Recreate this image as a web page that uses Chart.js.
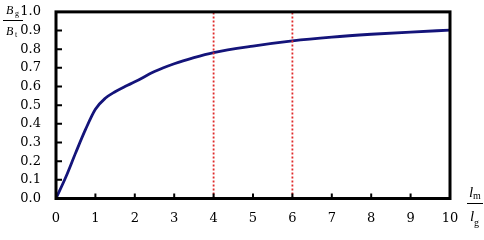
<!DOCTYPE html>
<html>
<head>
<meta charset="utf-8">
<script src="https://cdn.jsdelivr.net/npm/chart.js@4"></script>
<style>
  html, body { margin: 0; padding: 0; background: #fff; }
  #wrap { width: 484px; height: 240px; }
</style>
</head>
<body>
<div id="wrap"><canvas id="myChart" width="484" height="240"></canvas></div>
<script>
// ratio lm/lg and Bg/Bt
const ratioX = [0, 0.25, 0.5, 0.75, 1.0, 1.25, 1.5, 1.75, 2, 2.5, 3, 3.5, 4, 5, 6, 7, 8, 9, 10];
const ratioB = [0, 0.115, 0.245, 0.37, 0.478, 0.537, 0.572, 0.6, 0.625, 0.68, 0.722, 0.755, 0.782, 0.817, 0.845, 0.865, 0.88, 0.892, 0.902];
const markX = [4, 6];
const xTicks = [0, 1, 2, 3, 4, 5, 6, 7, 8, 9, 10];
const yTicks = [0, 0.1, 0.2, 0.3, 0.4, 0.5, 0.6, 0.7, 0.8, 0.9, 1.0];

const serif = "'DejaVu Serif', 'Liberation Serif', serif";
const tserif = "'Liberation Serif', serif";

const frame = {
  id: "frame",
  afterDraw(chart) {
    const ctx = chart.ctx;
    const a = chart.chartArea;
    const xs = chart.scales.x, ys = chart.scales.y;
    ctx.save();
    ctx.setLineDash([]);
    ctx.strokeStyle = "#000";
    ctx.lineWidth = 3;
    ctx.strokeRect(a.left, a.top, a.right - a.left, a.bottom - a.top);
    ctx.lineWidth = 2;
    ctx.beginPath();
    yTicks.forEach((v) => {
      const y = ys.getPixelForValue(v);
      ctx.moveTo(a.left, y);
      ctx.lineTo(a.left + 6, y);
    });
    xTicks.forEach((v) => {
      const x = xs.getPixelForValue(v);
      ctx.moveTo(x, a.bottom);
      ctx.lineTo(x, a.bottom - 5);
    });
    ctx.stroke();

    // axis titles as fractions
    ctx.fillStyle = "#000";
    ctx.textBaseline = "alphabetic";
    ctx.textAlign = "left";
    ctx.font = "italic 12px " + tserif;
    ctx.fillText("B", 6, 14);
    ctx.fillText("B", 6, 35);
    ctx.font = "8px " + tserif;
    ctx.fillText("g", 15, 16);
    ctx.fillText("t", 15, 37);
    ctx.fillRect(3, 20, 20, 1);

    ctx.font = "italic 15px " + tserif;
    ctx.fillText("l", 469, 197);
    ctx.fillText("l", 470, 221);
    ctx.font = "10px " + tserif;
    ctx.fillText("m", 473, 199);
    ctx.fillText("g", 474, 226);
    ctx.fillRect(467, 203, 16, 1);
    ctx.restore();
  },
};

const markSets = markX.map((m) => ({
  data: [{ x: m, y: 0 }, { x: m, y: 1 }],
  showLine: true,
  borderColor: "#e02a2a",
  borderWidth: 1.8,
  borderDash: [2, 2],
  pointRadius: 0,
}));

new Chart(document.getElementById("myChart"), {
  type: "scatter",
  data: {
    datasets: [
      ...markSets,
      {
        data: ratioX.map((x, i) => ({ x: x, y: ratioB[i] })),
        showLine: true,
        borderColor: "#14147a",
        borderWidth: 2.8,
        pointRadius: 0,
        cubicInterpolationMode: "monotone",
      },
    ],
  },
  options: {
    responsive: false,
    animation: false,
    layout: { padding: { left: 0, right: 34, top: 5, bottom: 0 } },
    plugins: { legend: { display: false }, tooltip: { enabled: false } },
    scales: {
      x: {
        type: "linear",
        min: xTicks[0],
        max: xTicks[xTicks.length - 1],
        afterFit: (s) => { s.height = 41.5; },
        grid: { display: false },
        border: { display: false },
        ticks: { color: "#000", font: { family: serif, size: 13 }, padding: 4, stepSize: 1, maxRotation: 0, autoSkip: false },
      },
      y: {
        min: yTicks[0],
        max: yTicks[yTicks.length - 1],
        afterFit: (s) => { s.width = 56; },
        grid: { display: false },
        border: { display: false },
        ticks: {
          color: "#000",
          font: { family: serif, size: 13, lineHeight: 0.75 },
          padding: 7,
          stepSize: 0.1,
          autoSkip: false,
          callback: (v) => v.toFixed(1),
        },
      },
    },
  },
  plugins: [frame],
});
</script>
</body>
</html>
